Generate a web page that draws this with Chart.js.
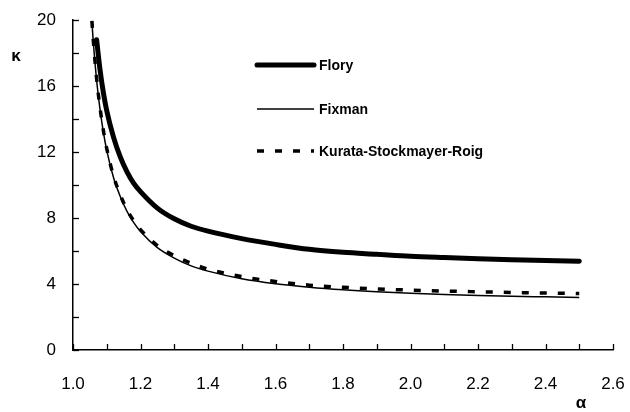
<!DOCTYPE html>
<html lang="en">
<head>
    <meta charset="UTF-8">
    <script src="https://cdn.jsdelivr.net/npm/chart.js"></script>
    <title>kappa vs alpha</title>
    <style>
        body { margin: 0; background: #fff; }
        #box { width: 630px; height: 412px; }
    </style>
</head>
<body>
    <div id="box"><canvas id="graph_"></canvas></div>
<script>
// alpha values (x) and kappa values (y)
var alpha  = [1.056, 1.06, 1.07, 1.08, 1.09, 1.10, 1.12, 1.14, 1.16, 1.18, 1.20, 1.25, 1.30, 1.35, 1.40, 1.50, 1.60, 1.70, 1.80, 1.90, 2.00, 2.10, 2.20, 2.30, 2.40, 2.50];
var flory  = [null, null, 18.8, 17.0, 15.6, 14.5, 12.9, 11.7, 10.8, 10.1, 9.6, 8.6, 7.95, 7.5, 7.2, 6.75, 6.4, 6.1, 5.92, 5.8, 5.68, 5.6, 5.53, 5.47, 5.42, 5.38];
var fixman = [19.9, 18.7, 16.35, 14.6, 13.2, 12.1, 10.45, 9.3, 8.4, 7.72, 7.18, 6.2, 5.57, 5.1, 4.78, 4.32, 4.02, 3.81, 3.65, 3.53, 3.44, 3.37, 3.31, 3.26, 3.22, 3.18];
var ksr    = [19.95, 18.8, 16.45, 14.7, 13.3, 12.2, 10.55, 9.4, 8.5, 7.83, 7.3, 6.33, 5.72, 5.26, 4.9, 4.45, 4.15, 3.93, 3.8, 3.7, 3.63, 3.57, 3.53, 3.49, 3.45, 3.42];
var seriesNames = ['Flory', 'Fixman', 'Kurata-Stockmayer-Roig'];
var xTicks = [1.0, 2.6, 0.1];   // min, max, step
var yTicks = [0, 20, 2];

function pts(ys){
    var out = [];
    for(var i=0;i<alpha.length;i++){
        if(ys[i]!==null) out.push({x: alpha[i], y: ys[i]});
    }
    return out;
}

// small ticks pointing into the plot
var innerTicks = {
    id: 'innerTicks',
    afterDraw: function(chart){
        var ctx = chart.ctx, xs = chart.scales.x, ys = chart.scales.y;
        var a = chart.chartArea;
        ctx.save();
        ctx.strokeStyle = '#000';
        ctx.lineWidth = 1.3;
        xs.ticks.forEach(function(t){
            var px = Math.round(xs.getPixelForValue(t.value)) + 0.5;
            ctx.beginPath(); ctx.moveTo(px, a.bottom); ctx.lineTo(px, a.bottom - 6); ctx.stroke();
        });
        ys.ticks.forEach(function(t){
            var py = Math.round(ys.getPixelForValue(t.value)) + 0.5;
            ctx.beginPath(); ctx.moveTo(a.left, py); ctx.lineTo(a.left + 6, py); ctx.stroke();
        });
        ctx.restore();
    }
};

// legend drawn inside the plot + axis symbols
var innerLegend = {
    id: 'innerLegend',
    afterDraw: function(chart){
        var ctx = chart.ctx;
        var rows = [65, 109, 151];
        ctx.save();
        chart.data.datasets.forEach(function(ds, i){
            ctx.beginPath();
            ctx.strokeStyle = '#000';
            ctx.lineWidth = ds.borderWidth;
            ctx.lineCap = ds.borderCapStyle || 'butt';
            ctx.setLineDash(ds.borderDash || []);
            ctx.moveTo(257, rows[i]); ctx.lineTo(314, rows[i]);
            ctx.stroke();
            ctx.setLineDash([]);
            ctx.fillStyle = '#000';
            ctx.font = 'bold 14px "Liberation Sans", Arial, sans-serif';
            ctx.textBaseline = 'middle';
            ctx.textAlign = 'left';
            ctx.fillText(ds.label, 319, rows[i] + 1);
        });
        ctx.font = 'bold 17px "Liberation Sans", Arial, sans-serif';
        ctx.textAlign = 'center';
        ctx.fillText('\u03ba', 16, 56);
        ctx.fillText('\u03b1', 581, 403);
        ctx.restore();
    }
};

var tickFont = { family: '"Liberation Sans", Arial, sans-serif', size: 17 };

function noPad(s){
    s.paddingLeft = 0; s.paddingRight = 0; s.paddingTop = 0; s.paddingBottom = 0;
}

new Chart(document.getElementById('graph_').getContext('2d'), {
    type: 'scatter',
    data: {
        datasets: [{
            label: seriesNames[0],
            data: pts(flory),
            showLine: true,
            borderColor: '#000',
            borderWidth: 5,
            borderCapStyle: 'round',
            pointRadius: 0,
            cubicInterpolationMode: 'monotone'
        }, {
            label: seriesNames[1],
            data: pts(fixman),
            showLine: true,
            borderColor: '#000',
            borderWidth: 1.5,
            pointRadius: 0,
            cubicInterpolationMode: 'monotone'
        }, {
            label: seriesNames[2],
            data: pts(ksr),
            showLine: true,
            borderColor: '#000',
            borderWidth: 3.5,
            borderDash: [7, 11],
            pointRadius: 0,
            cubicInterpolationMode: 'monotone'
        }]
    },
    options: {
        responsive: true,
        maintainAspectRatio: false,
        animation: false,
        devicePixelRatio: 1,
        layout: { padding: { left: 0, right: 17, top: 20, bottom: 0 } },
        plugins: { legend: { display: false }, tooltip: { enabled: false } },
        scales: {
            x: {
                type: 'linear',
                min: xTicks[0], max: xTicks[1],
                grid: { display: false, drawTicks: false },
                border: { display: true, color: '#000', width: 1.5 },
                ticks: {
                    stepSize: xTicks[2],
                    color: '#000',
                    font: tickFont,
                    padding: 24,
                    maxRotation: 0,
                    autoSkip: false,
                    callback: function(v){
                        return Math.round(v * 10) % 2 === 0 ? v.toFixed(1) : '';
                    }
                },
                afterFit: function(s){ s.height = 62; noPad(s); }
            },
            y: {
                min: yTicks[0], max: yTicks[1],
                grid: { display: false, drawTicks: false },
                border: { display: true, color: '#000', width: 1.5 },
                ticks: {
                    stepSize: yTicks[2],
                    color: '#000',
                    font: tickFont,
                    padding: 17,
                    autoSkip: false,
                    callback: function(v){
                        return v % 4 === 0 ? String(v) : '';
                    }
                },
                afterFit: function(s){ s.width = 73; noPad(s); }
            }
        }
    },
    plugins: [innerTicks, innerLegend]
});
</script>
</body>
</html>
